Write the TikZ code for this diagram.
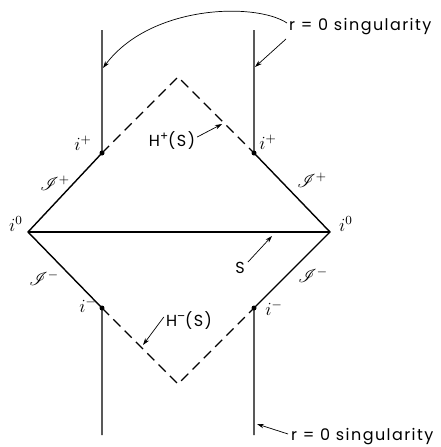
\documentclass[tikz,border=0pt]{standalone}
\usepackage{fontspec}
\usepackage{mathrsfs}
\setmainfont{Poppins}[LetterSpace=9]
\usetikzlibrary{arrows.meta}
\newcommand{\myml}[1]{\scalebox{1.55}{$#1$}}
\newcommand{\mysup}[1]{\raisebox{0.75ex}{\fontsize{12}{12}\selectfont #1}}
\begin{document}
\begin{tikzpicture}[x=1pt,y=-1pt,
  pline/.style={line width=1.4pt},
  dline/.style={line width=1.3pt,dash pattern=on 10pt off 6pt},
  arr/.style={line width=0.7pt,-{Stealth[length=7pt,width=4.5pt]}},
  lbl/.style={inner sep=0pt,font=\fontsize{16}{18}\selectfont},
  mlbl/.style={inner sep=0pt,font=\fontsize{12}{14}\selectfont},
  pt/.style={circle,fill,inner sep=0pt,minimum size=5pt}]
\useasboundingbox (0,0) rectangle (440,447);
% points
\coordinate (TL) at (102,30);
\coordinate (TR) at (254,30);
\node[pt] (IPL) at (102,153) {};
\node[pt] (IPR) at (254,153) {};
\node[pt] (IML) at (102,308) {};
\node[pt] (IMR) at (254,308) {};
\coordinate (BL) at (102,435);
\coordinate (BR) at (254,435);
\coordinate (I0L) at (28,232);
\coordinate (I0R) at (330,232);
\coordinate (AT) at (178,77);
\coordinate (AB) at (178,384);
% solid lines
\draw[pline] (TL) -- (IPL.center) -- (I0L) -- (IML.center) -- (BL);
\draw[pline] (TR) -- (IPR.center) -- (I0R) -- (IMR.center) -- (BR);
\draw[pline] (I0L) -- (I0R);
% dashed horizons
\draw[dline] (IPL.center) -- (AT) -- (IPR.center);
\draw[dline] (IML.center) -- (AB) -- (IMR.center);
% labels
\node[lbl,anchor=west] (rtop) at (289,27) {r = 0 singularity};
\node[lbl,anchor=west] (rbot) at (291,437) {r = 0 singularity};
\coordinate (hitL) at (103,68);
\coordinate (hitR) at (255,67);
\coordinate (hitB) at (257,424);
\draw[arr] (rtop.west) ++(-2,-4) .. controls (255,2) and (150,5) .. (hitL);
\draw[arr] (rtop.west) ++(-3,12) -- (hitR);
\draw[arr] (rbot.west) ++(-3,-3) -- (hitB);
\node[lbl] (Hp) at (172,141) {H\mysup{+}(S)};
\node[lbl] (Hm) at (189,321) {H\mysup{–}(S)};
\node[lbl] (S) at (240,268) {S};
\coordinate (hHp) at (222,124);
\coordinate (hHm) at (143,345);
\coordinate (hS) at (272,236);
\draw[arr] (Hp.east) ++(2,-4) -- (hHp);
\draw[arr] (Hm.west) ++(-2,-4) -- (hHm);
\draw[arr] (S.north east) ++(3,0) -- (hS);
% point labels
\node[mlbl] (lipl) at (83,143) {\myml{i^{+}}};
\node[mlbl] (lipr) at (268,142) {\myml{i^{+}}};
\node[mlbl] (liml) at (88,305) {\myml{i^{-}}};
\node[mlbl] (limr) at (274,308) {\myml{i^{-}}};
\node[mlbl] (li0l) at (16,224) {\myml{i^{0}}};
\node[mlbl] (li0r) at (346,224) {\myml{i^{0}}};
\node[mlbl] (jpl) at (55,183) {\myml{\mathscr{I}^{+}}};
\node[mlbl] (jpr) at (312,180) {\myml{\mathscr{I}^{+}}};
\node[mlbl] (jml) at (44,278) {\myml{\mathscr{I}^{-}}};
\node[mlbl] (jmr) at (313,275) {\myml{\mathscr{I}^{-}}};
\end{tikzpicture}
\end{document}
